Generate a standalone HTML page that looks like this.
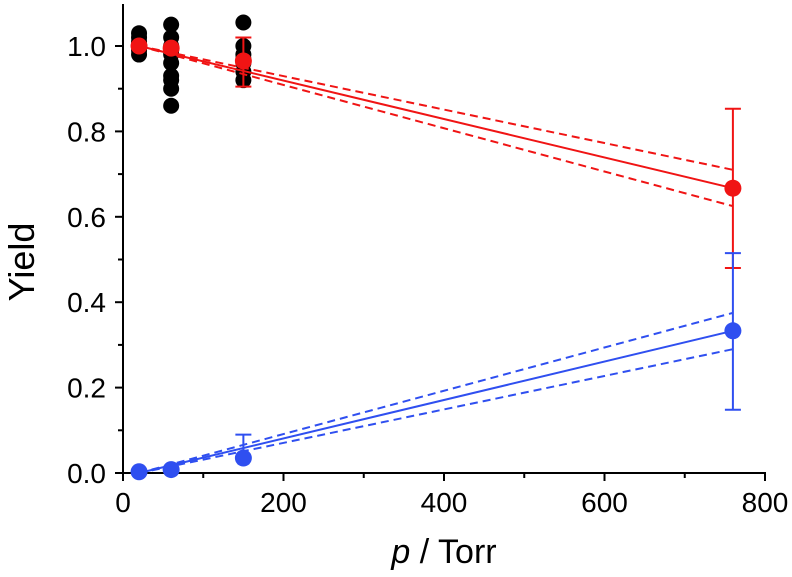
<!DOCTYPE html>
<html><head><meta charset="utf-8"><style>
body{margin:0;background:#fff}
svg{display:block;font-family:"Liberation Sans",sans-serif}
</style></head><body>
<svg id="chart" width="792" height="577"></svg>
<script>
const xTicks=[0,200,400,600,800];
const yTicks=[0.0,0.2,0.4,0.6,0.8,1.0];
const blackX=[20,20,20,20,20,20,60,60,60,60,60,60,60,60,60,60,150,150,150,150,150,150,150];
const blackY=[0.98,0.99,1.0,1.01,1.02,1.03,0.86,0.9,0.92,0.93,0.96,0.98,0.99,1.0,1.02,1.05,0.92,0.94,0.96,0.97,0.98,1.0,1.055];
const pX=[20,60,150,760];
const redY=[1.0,0.995,0.965,0.667];
const redLo=[1.0,0.995,0.905,0.48];
const redHi=[1.0,0.995,1.02,0.853];
const blueY=[0.003,0.008,0.035,0.333];
const blueLo=[0.003,0.008,0.035,0.148];
const blueHi=[0.003,0.008,0.09,0.515];
const redFit=[1.0,0.667], redFitHi=[1.0,0.71], redFitLo=[1.0,0.625];
const blueFit=[0.0,0.333], blueFitHi=[0.0,0.375], blueFitLo=[0.0,0.29];
const fitX=[20,760];
const NS="http://www.w3.org/2000/svg";
const svg=document.getElementById('chart');
const X=v=>123+v*(642/800), Y=v=>473-v*427;
function el(t,a,name,p){const e=document.createElementNS(NS,t);for(const k in a)e.setAttribute(k,a[k]);


(p||svg).appendChild(e);return e;}
el('line',{x1:123,y1:4,x2:123,y2:473,stroke:'#000','stroke-width':2},'y-axis');
el('line',{x1:122,y1:473,x2:766,y2:473,stroke:'#000','stroke-width':2},'x-axis');
for(let v=0;v<=800;v+=100){const maj=v%200===0;el('line',{x1:X(v),x2:X(v),y1:473,y2:473+(maj?8:5),stroke:'#000','stroke-width':2},'x-tick');}
for(let i=0;i<=10;i++){const v=i/10;const maj=i%2===0;el('line',{x1:123,x2:123-(maj?8:5),y1:Y(v),y2:Y(v),stroke:'#000','stroke-width':2},'y-tick');}
xTicks.forEach(v=>{const t=el('text',{x:X(v),y:512,'text-anchor':'middle','font-size':28},'x-tick-label');t.textContent=v;});
yTicks.forEach(v=>{const t=el('text',{x:106,y:Y(v)+10,'text-anchor':'end','font-size':28},'y-tick-label');t.textContent=v.toFixed(1);});
const xt=el('text',{x:444,y:563,'text-anchor':'middle','font-size':34},'x-axis-title');
xt.innerHTML='<tspan font-style="italic">p</tspan> / Torr';
const yt=el('text',{x:0,y:0,'text-anchor':'middle','font-size':36,transform:'translate(34,262) rotate(-90)'},'y-axis-title');yt.textContent='Yield';
blackX.forEach((x,i)=>el('circle',{cx:X(x),cy:Y(blackY[i]),r:8,fill:'#000'},'raw-point'));
function fit(ys,col,dash,name){el('line',{x1:X(fitX[0]),y1:Y(ys[0]),x2:X(fitX[1]),y2:Y(ys[1]),stroke:col,'stroke-width':2,'stroke-dasharray':dash?'8,5':'none'},name);}
function series(ys,lo,hi,col,name){
pX.forEach((x,i)=>{if(hi[i]!==lo[i]){el('line',{x1:X(x),x2:X(x),y1:Y(lo[i]),y2:Y(hi[i]),stroke:col,'stroke-width':2},name+'-errorbar');
[lo[i],hi[i]].forEach(v=>el('line',{x1:X(x)-8,x2:X(x)+8,y1:Y(v),y2:Y(v),stroke:col,'stroke-width':2},name+'-errorcap'));}
el('circle',{cx:X(x),cy:Y(ys[i]),r:8.5,fill:col},name+'-point');});}
fit(redFit,'#f01414',false,'red-fit');fit(redFitHi,'#f01414',true,'red-fit-upper');fit(redFitLo,'#f01414',true,'red-fit-lower');
fit(blueFit,'#2f4ff0',false,'blue-fit');fit(blueFitHi,'#2f4ff0',true,'blue-fit-upper');fit(blueFitLo,'#2f4ff0',true,'blue-fit-lower');
series(redY,redLo,redHi,'#f01414','red');
series(blueY,blueLo,blueHi,'#2f4ff0','blue');
</script>
</body></html>
